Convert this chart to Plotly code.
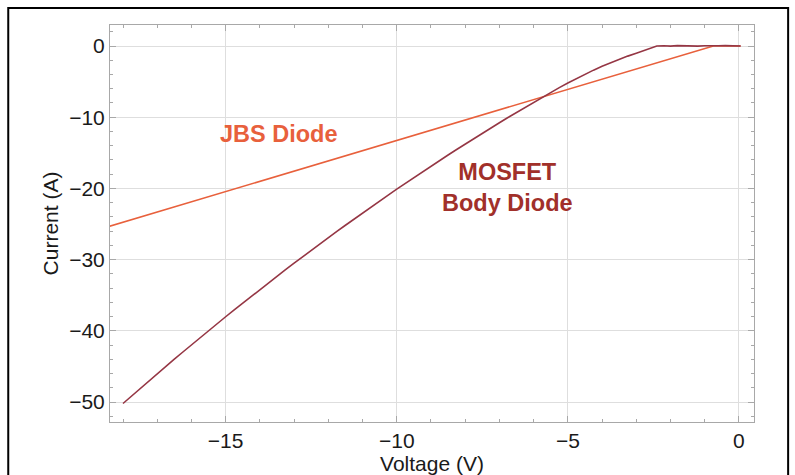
import plotly.graph_objects as go

# JBS diode reverse conduction: straight line to the knee, then flat at zero
jbs_voltage = [-18.6, -0.75, 0.05]
jbs_current = [-25.6, 0.0, 0.0]

# MOSFET body diode third-quadrant curve (measured trace)
mos_voltage = [-18.0, -17.75, -17.5, -17.25, -17.0, -16.75, -16.5, -16.25, -16.0, -15.75,
               -15.5, -15.25, -15.0, -14.75, -14.5, -14.25, -14.0, -13.75, -13.5, -13.25,
               -13.0, -12.75, -12.5, -12.25, -12.0, -11.75, -11.5, -11.25, -11.0, -10.75,
               -10.5, -10.25, -10.0, -9.75, -9.5, -9.25, -9.0, -8.75, -8.5, -8.25,
               -8.0, -7.75, -7.5, -7.25, -7.0, -6.75, -6.5, -6.25, -6.0, -5.75,
               -5.5, -5.25, -5.0, -4.75, -4.5, -4.25, -4.0, -3.75, -3.5, -3.25,
               -3.0, -2.75, -2.5, -2.4, -2.2, -2.0, -1.8, -1.6, -1.4, -1.2,
               -1.0, -0.8, -0.6, -0.4, -0.2, 0.0, 0.05]
mos_current = [-50.2, -49.14, -48.1, -47.06, -46.02, -45.0, -43.98, -42.97, -41.96, -40.97,
               -39.98, -39.0, -38.02, -37.06, -36.1, -35.14, -34.2, -33.26, -32.33, -31.41,
               -30.5, -29.59, -28.69, -27.8, -26.91, -26.04, -25.17, -24.3, -23.45, -22.6,
               -21.76, -20.93, -20.1, -19.28, -18.47, -17.67, -16.87, -16.08, -15.3, -14.53,
               -13.76, -13.0, -12.25, -11.51, -10.77, -10.04, -9.32, -8.6, -7.9, -7.2,
               -6.5, -5.84, -5.2, -4.57, -3.96, -3.39, -2.85, -2.34, -1.86, -1.42,
               -1.01, -0.6, -0.2, 0.0, 0.04, -0.02, 0.05, 0.0, 0.03, -0.02,
               0.04, 0.0, 0.03, 0.05, 0.0, 0.02, 0.0]

x_ticks = [-15, -10, -5, 0]
y_ticks = [0, -10, -20, -30, -40, -50]

FONT = "Liberation Sans, Arial, sans-serif"
AXIS_GRAY = "#a8a8a8"
GRID_GRAY = "#dedede"
TEXT = "#1a1a1a"

fig = go.Figure()
fig.add_trace(go.Scatter(x=jbs_voltage, y=jbs_current, mode="lines",
                         line=dict(color="#e8603c", width=1.6), name="JBS Diode"))
fig.add_trace(go.Scatter(x=mos_voltage, y=mos_current, mode="lines",
                         line=dict(color="#953644", width=1.6), name="MOSFET Body Diode"))

fig.add_annotation(x=-13.45, y=-12.3, text="<b>JBS Diode</b>", showarrow=False,
                   font=dict(family=FONT, size=23.5, color="#e8603c"))
fig.add_annotation(x=-6.75, y=-19.9, text="<b>MOSFET<br>Body Diode</b>", showarrow=False,
                   font=dict(family=FONT, size=23.5, color="#a1302a"))

# outer black frame around the figure
fig.add_shape(type="rect", xref="paper", yref="paper",
              x0=-0.158, x1=1.053, y0=-0.2, y1=1.043,
              line=dict(color="black", width=2), layer="above")

axis_common = dict(
    showline=True, linecolor=AXIS_GRAY, linewidth=1, mirror="allticks",
    ticks="inside", ticklen=6, tickcolor=AXIS_GRAY, tickwidth=1,
    showgrid=True, gridcolor=GRID_GRAY, gridwidth=1, zeroline=False,
    tickfont=dict(family=FONT, size=21, color=TEXT), automargin=False,
)

fig.update_layout(
    width=795, height=475,
    margin=dict(l=110, r=41, t=25, b=53),
    paper_bgcolor="white", plot_bgcolor="white",
    showlegend=False,
    xaxis=dict(range=[-18.38, 0.44], tickvals=x_ticks, ticktext=["\u221215", "\u221210", "\u22125", "0"],
               title=dict(text="Voltage (V)", font=dict(family=FONT, size=21, color=TEXT), standoff=6),
               minor=dict(dtick=1, ticks="inside", ticklen=3, tickcolor=AXIS_GRAY, showgrid=False),
               **axis_common),
    yaxis=dict(range=[-52.8, 2.95], tickvals=y_ticks,
               ticktext=["0", "\u221210", "\u221220", "\u221230", "\u221240", "\u221250"],
               title=dict(text="Current (A)", font=dict(family=FONT, size=21, color=TEXT), standoff=4),
               minor=dict(dtick=2, ticks="inside", ticklen=3, tickcolor=AXIS_GRAY, showgrid=False),
               **axis_common),
)

fig.write_html("out.html")
